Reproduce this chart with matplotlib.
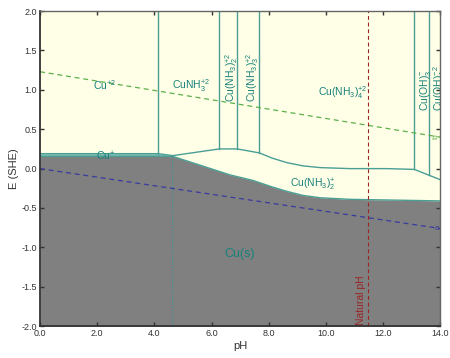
import matplotlib
matplotlib.use("Agg")
import matplotlib.pyplot as plt
import numpy as np

plt.rcParams['font.family'] = ['Liberation Sans', 'DejaVu Sans']
plt.rcParams['mathtext.fontset'] = 'custom'
plt.rcParams['mathtext.rm'] = 'Liberation Sans'
plt.rcParams['mathtext.it'] = 'Liberation Sans'
plt.rcParams['mathtext.bf'] = 'Liberation Sans:bold'

# ---- data ----
# Cu(s) stability boundary (top of grey region)
cus_ph = [0.0, 4.65, 6.65, 7.45, 8.1, 8.65, 9.2, 9.8, 10.85, 14.0]
cus_E = [0.155, 0.155, -0.08, -0.15, -0.23, -0.29, -0.34, -0.37, -0.39, -0.41]
# Cu+ strip top
cup_ph = [0.0, 4.13, 4.65]
cup_E = [0.19, 0.19, 0.165]
# upper boundary of Cu(NH3)2+ region
up_ph = [4.65, 6.27, 6.9, 7.67, 8.15, 8.65, 9.2, 9.8, 10.85, 12.15, 13.1, 14.0]
up_E = [0.165, 0.25, 0.25, 0.20, 0.13, 0.075, 0.035, 0.013, 0.0, 0.0, -0.01, -0.14]
# vertical boundaries between aqueous Cu(II) species: pH, lower E
vert_ph = [4.13, 6.27, 6.9, 7.67, 13.1, 13.6]
vert_Elow = [0.19, 0.25, 0.25, 0.20, -0.01, -0.075]
# water stability lines
water_ph = [0.0, 14.0]
o2_E = [1.23, 0.40]
h2_E = [0.0, -0.76]
natural_ph = 11.47
cu_dotted_ph = 4.62

labels = [
    ("Cu$^{+2}$", 2.27, 1.06, 0),
    ("CuNH$_3^{+2}$", 5.3, 1.05, 0),
    ("Cu(NH$_3$)$_2^{+2}$", 6.7, 1.16, 90),
    ("Cu(NH$_3$)$_3^{+2}$", 7.45, 1.16, 90),
    ("Cu(NH$_3$)$_4^{+2}$", 10.6, 0.96, 0),
    ("Cu(OH)$_3^{-}$", 13.48, 1.0, 90),
    ("Cu(OH)$_4^{-2}$", 14.0, 1.02, 90),
    ("Cu$^{+}$", 2.3, 0.15, 0),
    ("Cu(NH$_3$)$_2^{+}$", 9.55, -0.2, 0),
]

teal = '#4a9e94'
labc = '#17807a'

fig = plt.figure(figsize=(4.5, 3.58), dpi=100)
ax = fig.add_axes([0.089, 0.089, 0.889, 0.880])
ax.set_facecolor('#FFFFE8')
ax.set_xlim(0, 14)
ax.set_ylim(-2, 2)

# grey Cu(s)
ax.fill_between(cus_ph, cus_E, -2, color='#808080', zorder=1, lw=0)
ax.plot(cus_ph, cus_E, color=teal, lw=1.0, zorder=3)
# Cu+ strip
strip_ph = np.array(cup_ph)
strip_low = np.interp(strip_ph, cus_ph, cus_E)
ax.fill_between(strip_ph, strip_low, cup_E, color='#7fbcae', zorder=2, lw=0)
ax.plot(cup_ph, cup_E, color=teal, lw=1.0, zorder=3)
ax.plot(up_ph, up_E, color=teal, lw=1.0, zorder=3)
for p, e in zip(vert_ph, vert_Elow):
    ax.plot([p, p], [e, 2], color=teal, lw=1.0, zorder=3)

ax.plot([cu_dotted_ph, cu_dotted_ph], [0.155, -2], color='#2a9a98', lw=0.8,
        ls=(0, (1, 2)), zorder=3)

ax.plot(water_ph, o2_E, color='#5cb04a', lw=0.9, ls=(0, (4, 3)), zorder=4)
ax.plot(water_ph, h2_E, color='#3a3aa0', lw=0.9, ls=(0, (4, 3)), zorder=4)
ax.text(13.97, o2_E[1], 'b', color='#5cb04a', fontsize=6, rotation=90,
        ha='right', va='center', zorder=5)
ax.text(13.97, h2_E[1], 'a', color='#3a3aa0', fontsize=6,
        ha='right', va='center', zorder=5)

ax.axvline(natural_ph, color='#9b2525', lw=0.8, ls=(0, (3.5, 2.5)), zorder=4)
ax.text(natural_ph - 0.05, -1.98, 'Natural pH', color='#9b2525', fontsize=7.5,
        rotation=90, ha='right', va='bottom', zorder=5)

for t, x, y, r in labels:
    ax.text(x, y, t, color=labc, fontsize=7.5, rotation=r, ha='center',
            va='center', zorder=6, clip_on=True)
ax.text(7.0, -1.09, 'Cu(s)', color=labc, fontsize=9, ha='center', va='center',
        zorder=6)

ax.set_xticks(np.arange(0, 14.1, 2))
ax.set_xticklabels([f"{v:.1f}" for v in np.arange(0, 14.1, 2)])
ax.set_yticks(np.arange(-2, 2.01, 0.5))
ax.set_yticklabels([f"{v:.1f}" for v in np.arange(-2, 2.01, 0.5)])
ax.tick_params(direction='in', length=3, width=1, labelsize=6.5,
               colors='#333333', top=True, right=True, pad=2)
ax.set_xlabel('pH', fontsize=8, color='#333333', labelpad=2)
ax.set_ylabel('E (SHE)', fontsize=8, color='#333333', labelpad=2)
for name, s in ax.spines.items():
    s.set_color('#333333' if name in ('left', 'bottom') else '#666666')
    s.set_linewidth(1.3 if name in ('left', 'bottom') else 1.0)
    s.set_zorder(10)

fig.savefig('out.png', dpi=100)
